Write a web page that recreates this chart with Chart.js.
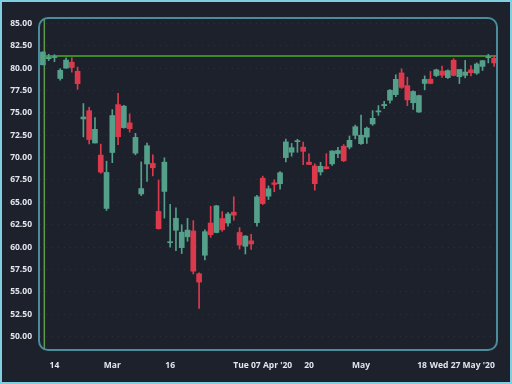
<!DOCTYPE html>
<html>
<head>
<meta charset="utf-8">
<script src="https://cdn.jsdelivr.net/npm/chart.js@4/dist/chart.umd.min.js"></script>
<style>
  html, body { margin: 0; padding: 0; background: #1d212c; }
  #c { display: block; }
</style>
</head>
<body>
<canvas id="c" width="512" height="384"></canvas>
<script>
// ---- data (daily candles) ----
const dates = [
  "2020-02-12","2020-02-13","2020-02-14","2020-02-18","2020-02-19","2020-02-20","2020-02-21",
  "2020-02-24","2020-02-25","2020-02-26","2020-02-27","2020-02-28",
  "2020-03-02","2020-03-03","2020-03-04","2020-03-05","2020-03-06",
  "2020-03-09","2020-03-10","2020-03-11","2020-03-12","2020-03-13",
  "2020-03-16","2020-03-17","2020-03-18","2020-03-19","2020-03-20",
  "2020-03-23","2020-03-24","2020-03-25","2020-03-26","2020-03-27",
  "2020-03-30","2020-03-31","2020-04-01","2020-04-02","2020-04-03",
  "2020-04-06","2020-04-07","2020-04-08","2020-04-09",
  "2020-04-13","2020-04-14","2020-04-15","2020-04-16","2020-04-17",
  "2020-04-20","2020-04-21","2020-04-22","2020-04-23","2020-04-24",
  "2020-04-27","2020-04-28","2020-04-29","2020-04-30","2020-05-01",
  "2020-05-04","2020-05-05","2020-05-06","2020-05-07","2020-05-08",
  "2020-05-11","2020-05-12","2020-05-13","2020-05-14","2020-05-15",
  "2020-05-18","2020-05-19","2020-05-20","2020-05-21","2020-05-22",
  "2020-05-26","2020-05-27","2020-05-28","2020-05-29",
  "2020-06-01","2020-06-02","2020-06-03","2020-06-04"
];
const opens = [
  80.37,81.05,81.18,78.84,80.00,80.66,79.65,
  74.32,75.24,71.63,70.28,64.32,
  70.57,75.92,73.35,73.88,70.50,
  65.94,69.29,69.35,63.99,66.22,
  60.49,61.88,59.94,61.15,61.80,
  57.02,59.09,62.69,61.63,63.19,
  62.69,63.90,61.63,60.09,60.70,
  62.73,67.70,65.69,67.18,
  67.08,70.00,70.60,71.78,71.17,
  69.49,69.07,68.40,68.97,69.30,
  70.45,71.27,71.18,72.49,71.56,
  72.29,73.76,75.11,75.80,76.41,
  77.03,79.46,78.04,76.13,75.09,
  78.29,78.76,79.17,79.67,78.94,
  80.88,79.04,79.19,79.81,
  79.44,80.19,81.17,81.10
];
const highs = [
  81.81,81.55,81.50,79.94,81.14,81.16,80.11,
  76.04,75.63,74.47,71.50,69.60,
  75.36,77.18,75.85,74.89,72.71,
  69.52,71.61,70.31,67.50,69.98,
  64.77,64.40,62.50,63.21,62.96,
  57.13,61.92,64.56,64.67,63.97,
  63.88,65.62,62.18,61.29,61.43,
  65.78,67.93,66.84,67.52,
  68.43,72.06,71.58,72.05,71.74,
  70.42,69.31,69.47,70.44,70.75,
  71.14,71.46,72.42,73.63,74.75,
  73.42,75.25,75.81,76.29,77.59,
  79.26,79.92,78.99,77.45,76.98,
  79.13,79.63,79.88,80.22,79.81,
  81.06,79.68,80.86,80.29,
  80.59,80.86,81.55,81.41
];
const lows = [
  80.37,80.84,80.71,78.65,80.00,79.55,77.63,
  72.31,71.53,71.63,68.24,64.09,
  69.43,71.45,73.28,72.85,70.31,
  65.75,67.34,67.96,62.00,63.24,
  60.00,59.60,59.28,60.65,57.00,
  53.15,58.58,61.08,61.59,61.76,
  62.35,63.00,59.78,59.23,59.74,
  62.35,64.75,65.31,66.18,
  66.46,69.51,70.16,70.59,69.21,
  69.21,66.36,68.05,68.72,69.13,
  69.99,69.55,70.97,72.09,71.46,
  71.58,73.61,74.72,75.49,76.07,
  76.81,77.73,75.80,75.38,75.05,
  77.58,78.25,79.05,78.97,78.84,
  79.13,78.27,78.91,79.12,
  79.30,79.73,80.58,80.20
];
const closes = [
  81.80,81.22,81.24,79.75,80.90,80.07,78.26,
  74.54,72.02,73.16,68.38,68.34,
  74.70,72.33,75.75,73.23,72.26,
  66.54,71.33,68.86,62.06,69.49,
  60.55,63.22,61.67,61.90,57.31,
  56.09,61.72,61.38,64.61,61.94,
  63.70,63.57,60.23,61.23,60.35,
  65.62,64.86,66.52,67.00,
  68.31,71.76,71.11,71.86,70.70,
  69.23,67.09,69.03,68.76,70.74,
  70.79,69.64,71.93,73.45,72.50,
  73.29,74.39,75.16,75.94,77.53,
  78.75,77.85,76.45,77.39,76.93,
  78.74,78.29,79.81,79.21,79.72,
  79.18,79.85,79.56,79.49,
  80.46,80.83,81.28,80.58
];
const xTickIndex = [2, 12, 22, 38, 46, 55, 66, 72];
const xTickText = ["14", "Mar", "16", "Tue 07 Apr '20", "20", "May", "18", "Wed 27 May '20"];
const yTicks = [50, 52.5, 55, 57.5, 60, 62.5, 65, 67.5, 70, 72.5, 75, 77.5, 80, 82.5, 85];
const crosshairPrice = 81.35;
const crosshairIndex = 0.25;

// ---- styling ----
const UP = '#55a08a';
const DOWN = '#dc3a4c';
const colors = opens.map((o, i) => closes[i] >= o ? UP : DOWN);
const FONT = { family: "'Open Sans', 'Noto Sans', sans-serif", size: 8.5, weight: 'bold' };
// small label spreading so crowded labels do not touch (in category units)
const labelNudge = { 66: -0.45, 72: 0.5 };

const framePlugin = {
  id: 'frame',
  beforeDraw(chart) {
    const ctx = chart.ctx;
    ctx.save();
    ctx.fillStyle = '#1d212c';
    ctx.fillRect(0, 0, chart.width, chart.height);
    ctx.strokeStyle = '#7fcfe0';
    ctx.lineWidth = 2;
    ctx.strokeRect(1, 1, chart.width - 2, chart.height - 2);
    ctx.restore();
  },
  beforeDatasetsDraw(chart) {
    const { ctx, chartArea: a, scales } = chart;
    ctx.save();
    ctx.strokeStyle = '#3c8a22';
    ctx.lineWidth = 2;
    const py = Math.round(scales.y.getPixelForValue(crosshairPrice));
    ctx.beginPath(); ctx.moveTo(a.left, py); ctx.lineTo(a.right, py); ctx.stroke();
    ctx.strokeStyle = '#5a9a4a';
    ctx.lineWidth = 1.5;
    const px = scales.x.getPixelForValue(crosshairIndex);
    ctx.beginPath(); ctx.moveTo(px, a.top); ctx.lineTo(px, a.bottom); ctx.stroke();
    ctx.restore();
  },
  afterDraw(chart) {
    const { ctx, chartArea: a } = chart;
    const r = 9;
    ctx.save();
    ctx.strokeStyle = '#4a8c9c';
    ctx.lineWidth = 2;
    ctx.beginPath();
    ctx.roundRect(a.left - 1, a.top, a.right - a.left + 1, a.bottom - a.top, r);
    ctx.stroke();
    ctx.restore();
  }
};

new Chart(document.getElementById('c'), {
  type: 'bar',
  data: {
    labels: dates,
    datasets: [
      {
        label: 'body',
        data: opens.map((o, i) => [o, closes[i]]),
        backgroundColor: colors,
        barThickness: 5,
        minBarLength: 1,
        grouped: false,
        borderWidth: 0,
        order: 1
      },
      {
        label: 'wick',
        data: lows.map((l, i) => [l, highs[i]]),
        backgroundColor: colors,
        barThickness: 1,
        grouped: false,
        borderWidth: 0,
        order: 2
      }
    ]
  },
  options: {
    responsive: false,
    animation: false,
    devicePixelRatio: 1,
    layout: { padding: { left: 0, top: 18, right: 15, bottom: 0 } },
    plugins: { legend: { display: false }, tooltip: { enabled: false } },
    scales: {
      x: {
        type: 'category',
        offset: true,
        grid: { display: false, drawTicks: false },
        border: { display: false },
        afterBuildTicks(scale) {
          scale.ticks = xTickIndex.map(v => ({ value: v + (labelNudge[v] || 0), idx: v }));
        },
        afterFit(scale) { scale.height = 34; },
        ticks: {
          autoSkip: false,
          maxRotation: 0,
          minRotation: 0,
          padding: 10,
          color: '#e2e5ec',
          font: FONT,
          callback(value, index) { return xTickText[index]; }
        }
      },
      y: {
        min: 48.5,
        max: 85.6,
        afterBuildTicks(scale) { scale.ticks = yTicks.map(v => ({ value: v })); },
        afterFit(scale) { scale.width = 40; },
        grid: { color: 'rgba(110,130,150,0.16)', drawTicks: false, tickBorderDash: [1, 4] },
        border: { display: false, dash: [1, 5] },
        ticks: {
          padding: 8,
          color: '#e2e5ec',
          font: FONT,
          callback(v) { return v.toFixed(2); }
        }
      }
    }
  },
  plugins: [framePlugin]
});
</script>
</body>
</html>
